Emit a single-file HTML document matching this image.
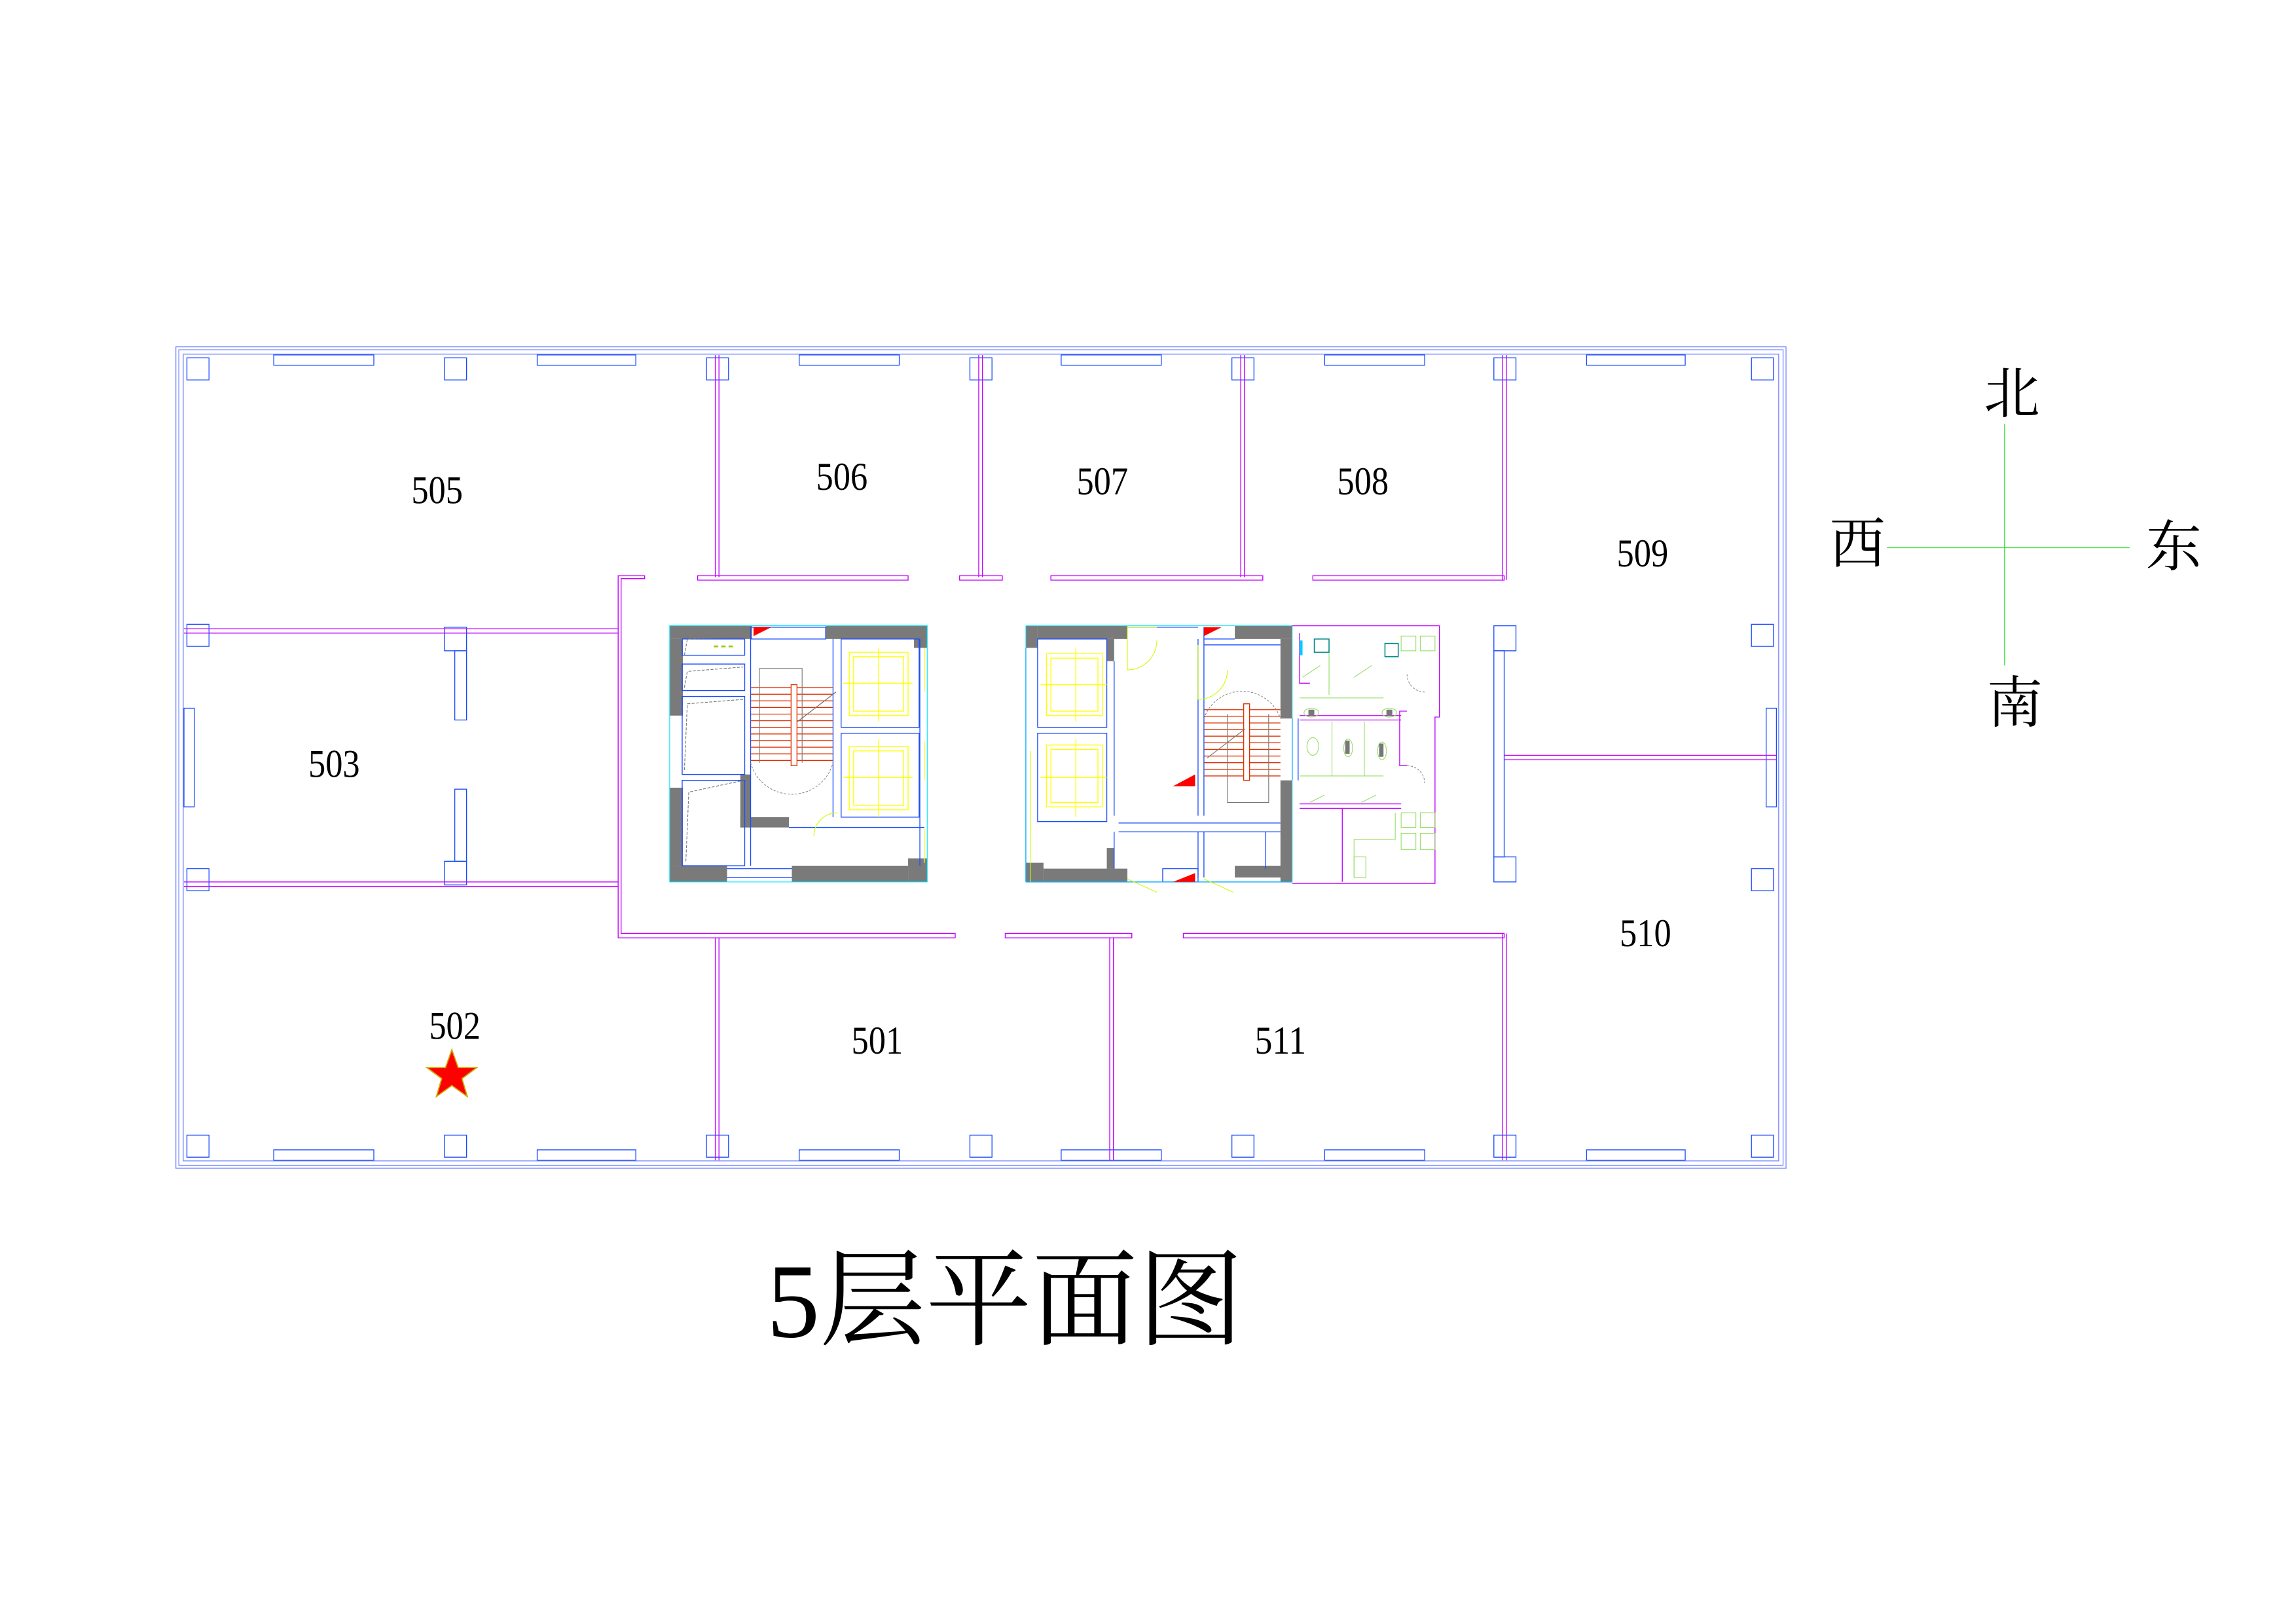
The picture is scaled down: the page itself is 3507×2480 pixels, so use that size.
<!DOCTYPE html>
<html><head><meta charset="utf-8"><style>
html,body{margin:0;padding:0;background:#fff;}
svg{display:block;}
.num{font-family:"Liberation Serif",serif;font-size:27px;fill:#000;}
.cjk{font-family:"Liberation Serif","Noto Serif CJK SC",serif;fill:#000;}
</style></head><body>
<svg width="3507" height="2480" viewBox="0 0 1560 1103" xmlns="http://www.w3.org/2000/svg">
<rect width="1560" height="1103" fill="#fff"/>
<g fill="none" stroke="#7a8cff" stroke-width="0.6">
<rect x="119.5" y="235.5" width="1094" height="558"/>
<rect x="121.5" y="237.5" width="1090" height="554"/>
<rect x="124.5" y="240.5" width="1084" height="548"/>
</g>
<g fill="none" stroke="#1a4cff" stroke-width="0.6">
<rect x="127" y="243" width="15" height="15"/><rect x="302" y="243" width="15" height="15"/><rect x="480" y="243" width="15" height="15"/><rect x="659" y="243" width="15" height="15"/><rect x="837" y="243" width="15" height="15"/><rect x="1015" y="243" width="15" height="15"/><rect x="1190" y="243" width="15" height="15"/>
<rect x="127" y="771" width="15" height="15"/><rect x="302" y="771" width="15" height="15"/><rect x="480" y="771" width="15" height="15"/><rect x="659" y="771" width="15" height="15"/><rect x="837" y="771" width="15" height="15"/><rect x="1015" y="771" width="15" height="15"/><rect x="1190" y="771" width="15" height="15"/>
<rect x="127" y="424" width="15" height="15"/><rect x="127" y="590" width="15" height="15"/>
<rect x="1190" y="424" width="15" height="15"/><rect x="1190" y="590" width="15" height="15"/>
<rect x="302" y="426" width="15" height="16"/><rect x="302" y="585" width="15" height="16"/>
<rect x="309" y="442" width="8" height="47"/><rect x="309" y="536" width="8" height="49"/>
<rect x="1015" y="425" width="15" height="17"/><rect x="1015" y="582" width="15" height="17"/>
<rect x="1015" y="442" width="7" height="140"/>
<rect x="186" y="241" width="68" height="7"/><rect x="365" y="241" width="67" height="7"/><rect x="543" y="241" width="68" height="7"/><rect x="721" y="241" width="68" height="7"/><rect x="900" y="241" width="68" height="7"/><rect x="1078" y="241" width="67" height="7"/>
<rect x="186" y="781" width="68" height="7"/><rect x="365" y="781" width="67" height="7"/><rect x="543" y="781" width="68" height="7"/><rect x="721" y="781" width="68" height="7"/><rect x="900" y="781" width="68" height="7"/><rect x="1078" y="781" width="67" height="7"/>
<rect x="125" y="481" width="7" height="67"/><rect x="1200" y="481" width="7" height="67"/>
</g>
<g fill="none" stroke="#c000ff" stroke-width="0.6">
<path d="M486,241V392 M488.5,241V392 M665,241V392 M667.5,241V392 M843,241V392 M845.5,241V392 M1021,241V394 M1023.5,241V394"/>
<path d="M474,391H617V394H474Z M652,391H681V394H652Z M714,391H858V394H714Z M892,391H1022V394H892Z"/>
<path d="M420,391H438V393H422V634H649V637H420Z"/>
<path d="M683,634H769V637H683Z M804,634H1022V637H804Z"/>
<path d="M486,637V788 M488.5,637V788 M754,637V788 M756.5,637V788 M1021,634V788 M1023.5,634V788"/>
<path d="M125,427H420 M125,430H420 M125,599H420 M125,602H420"/>
<path d="M1022,513H1207 M1022,516H1207"/>
</g>
<g>
<g fill="#7a7a7a">
<rect x="455" y="425" width="56" height="9"/>
<rect x="561" y="425" width="61" height="9"/>
<rect x="621" y="425" width="9" height="15"/>
<rect x="455" y="434" width="9" height="52"/>
<rect x="455" y="535" width="9" height="53"/>
<rect x="455" y="588" width="39" height="11"/>
<rect x="538" y="588" width="79" height="11"/>
<rect x="617" y="583" width="13" height="16"/>
<rect x="503" y="526" width="7" height="36"/>
<rect x="503" y="555" width="33" height="7"/>
</g>
<g fill="none" stroke="#1a4cff" stroke-width="0.6">
<rect x="510" y="426" width="51" height="8"/>
<rect x="463.5" y="434" width="42.5" height="11"/>
<rect x="463.5" y="451" width="42.5" height="18"/>
<rect x="463.5" y="473" width="42.5" height="53"/>
<rect x="463.5" y="530" width="42.5" height="58"/>
<rect x="571.5" y="434" width="53" height="60"/>
<rect x="571.5" y="498" width="53" height="57"/>
<path d="M510,434V588 M566,434V555 M536,562H628 M625,434V588 M494,590H538 M494,596H538"/>
</g>
<path d="M455,425H630V599H455Z" fill="none" stroke="#00e5ff" stroke-width="0.5"/>
<g fill="none" stroke="#777" stroke-width="0.5" stroke-dasharray="2,1">
<path d="M465,445L467,434L505,433 M465,467L467,456L505,453 M465,523L467,478L505,475 M466,585L468,538L505,530"/>
</g>
<g stroke="#e03000" stroke-width="0.6">
<path d="M510,467H566 M510,471.5H566 M510,476H566 M510,480.5H566 M510,485H566 M510,489.5H566 M510,494H566 M510,498.5H566 M510,503H566 M510,507.5H566 M510,512H566 M510,516.5H566"/>
</g>
<rect x="537.5" y="465" width="4" height="55" fill="#fff" stroke="#e03000" stroke-width="0.6"/>
<path d="M516,518V454H545V518" fill="none" stroke="#777" stroke-width="0.5"/>
<path d="M510,518A29,29 0 0 0 566,518" fill="none" stroke="#777" stroke-width="0.4" stroke-dasharray="1.5,1"/>
<path d="M542,490L568,470" stroke="#777" stroke-width="0.6"/>
<g fill="none" stroke="#ffff00" stroke-width="0.6">
<rect x="577" y="443" width="40" height="43"/><rect x="580" y="446" width="34" height="37"/>
<rect x="577" y="507" width="40" height="43"/><rect x="580" y="510" width="34" height="37"/>
<path d="M573,464H620 M597,440V490 M573,528H620 M597,502V555"/>
<path d="M628,440V470 M628,503V530 M628,563V586"/>
</g>
<path d="M512,426h12l-12,6z" fill="#f00"/>
<path d="M485,439l3,0 M490,439l3,0 M495,439l3,0" stroke="#99cc00" stroke-width="1.2"/>
<path d="M569,552A16,16 0 0 0 553,568" fill="none" stroke="#ccff00" stroke-width="0.5"/>
</g>
<g>
<g fill="#7a7a7a">
<rect x="697" y="425" width="8" height="15"/>
<rect x="705" y="425" width="61" height="9"/>
<rect x="839" y="425" width="39" height="9"/>
<rect x="870" y="434" width="8" height="54"/>
<rect x="870" y="530" width="8" height="69"/>
<rect x="697" y="586" width="12" height="13"/>
<rect x="709" y="590" width="57" height="9"/>
<rect x="839" y="588" width="39" height="8"/>
<rect x="752" y="434" width="5" height="15"/>
<rect x="752" y="576" width="5" height="14"/>
</g>
<g fill="none" stroke="#1a4cff" stroke-width="0.6">
<rect x="705" y="434" width="47" height="60"/>
<rect x="705" y="498" width="47" height="60"/>
<path d="M757,449V554 M814,434V554 M818,434V554 M697,440V599 M697,599H878 M760,559H870 M760,565H870 M757,565V590 M814,565V596 M818,565V596 M860,565V590 M878,488V530 M882,488V530 M766,426H814 M818,426V434H839 M818,438H870"/>
<rect x="790" y="590" width="24" height="9"/>
</g>
<path d="M697,425H878V599H697Z" fill="none" stroke="#00e5ff" stroke-width="0.4"/>
<g fill="none" stroke="#ffff00" stroke-width="0.6">
<rect x="711" y="444" width="38" height="42"/><rect x="714" y="447" width="32" height="36"/>
<rect x="711" y="506" width="38" height="42"/><rect x="714" y="509" width="32" height="36"/>
<path d="M707,465H752 M731,440V490 M707,528H752 M731,502V555"/>
</g>
<g fill="none" stroke="#ccff00" stroke-width="0.5">
<path d="M766,426V455A20,20 0 0 0 786,435 M766,426H786 M814,438V475A20,20 0 0 0 834,455 M700,510V599 M766,597L786,606 M818,597L838,606"/>
</g>
<g stroke="#e03000" stroke-width="0.6">
<path d="M818,482H870 M818,486.5H870 M818,491H870 M818,495.5H870 M818,500H870 M818,504.5H870 M818,509H870 M818,513.5H870 M818,518H870 M818,522.5H870 M818,527H870"/>
</g>
<rect x="845" y="478" width="4" height="52" fill="#fff" stroke="#e03000" stroke-width="0.6"/>
<path d="M818,488A27.5,27.5 0 0 1 870,488" fill="none" stroke="#777" stroke-width="0.4" stroke-dasharray="1.5,1"/>
<path d="M834,485V545H862V485 M820,515L846,495" fill="none" stroke="#777" stroke-width="0.5"/>
<path d="M818,426h12l-12,6z M812,526v8h-15z M797,599l15,-6v6z" fill="#f00"/>
<g fill="none" stroke="#c000ff" stroke-width="0.6">
<path d="M878,425H978V487H975V600H878"/>
<path d="M883,430V464H890 M956,483H951V520H956 M883,486H952 M883,489H952 M883,546H952 M883,549H952 M912,549V599"/>
</g>
<g fill="none" stroke="#99dd66" stroke-width="0.5">
<rect x="952" y="432" width="10" height="10"/><rect x="965" y="432" width="10" height="10"/>
<rect x="952" y="552" width="10" height="10"/><rect x="965" y="552" width="10" height="10"/>
<rect x="952" y="566" width="10" height="11"/><rect x="965" y="566" width="10" height="11"/>
<rect x="920" y="582" width="8" height="14"/>
<path d="M883,474H940 M883,527H940 M905,490V527 M927,490V527 M903,440V472 M885,460L897,452 M920,460L932,452 M890,545L900,540 M925,545L935,540 M920,570H948V552 M920,570V596"/>
<ellipse cx="891" cy="484" rx="5" ry="3"/><ellipse cx="944" cy="484" rx="5" ry="3"/>
<ellipse cx="892" cy="507" rx="4" ry="6"/><ellipse cx="916" cy="508" rx="3" ry="6"/><ellipse cx="939" cy="510" rx="3" ry="6"/>
</g>
<g fill="#777"><rect x="889" y="482" width="4" height="4"/><rect x="942" y="482" width="4" height="4"/><rect x="914" y="503" width="3" height="9"/><rect x="937" y="505" width="3" height="9"/></g>
<path d="M884,435V445" stroke="#00ccff" stroke-width="2"/>
<rect x="893" y="434" width="10" height="9" fill="none" stroke="#008888" stroke-width="0.7"/>
<rect x="941" y="437" width="9" height="9" fill="none" stroke="#008888" stroke-width="0.7"/>
<path d="M956,458A12,12 0 0 0 968,470 M956,520A12,12 0 0 1 968,532" fill="none" stroke="#777" stroke-width="0.4" stroke-dasharray="1.5,1"/>
</g>
<polygon points="307,713 311.3,725.1 324,725.1 313.9,732.6 317.5,744.8 307,737.3 296.5,744.8 300.1,732.6 290,725.1 302.7,725.1" fill="#ff0000" stroke="#ccaa00" stroke-width="0.8"/>
<g class="num" text-anchor="middle" dominant-baseline="central" lengthAdjust="spacingAndGlyphs">
<text x="297" y="333" textLength="35" lengthAdjust="spacingAndGlyphs">505</text>
<text x="572" y="324" textLength="35" lengthAdjust="spacingAndGlyphs">506</text>
<text x="749" y="327" textLength="35" lengthAdjust="spacingAndGlyphs">507</text>
<text x="926" y="327" textLength="35" lengthAdjust="spacingAndGlyphs">508</text>
<text x="1116" y="376" textLength="35" lengthAdjust="spacingAndGlyphs">509</text>
<text x="227" y="519" textLength="35" lengthAdjust="spacingAndGlyphs">503</text>
<text x="1118" y="634" textLength="35" lengthAdjust="spacingAndGlyphs">510</text>
<text x="309" y="697" textLength="35" lengthAdjust="spacingAndGlyphs">502</text>
<text x="596" y="707" textLength="35" lengthAdjust="spacingAndGlyphs">501</text>
<text x="870" y="707" textLength="35" lengthAdjust="spacingAndGlyphs">511</text>
</g>
<g stroke="#33dd33" stroke-width="0.6">
<path d="M1362,288V452 M1282,372H1447"/>
</g>
<g class="cjk" font-size="38" text-anchor="middle" dominant-baseline="central">
<text x="1367" y="268">北</text>
<text x="1262" y="370">西</text>
<text x="1477" y="372">东</text>
<text x="1369" y="478">南</text>
</g>
<text x="683" y="908" class="cjk" font-size="72" text-anchor="middle">5层平面图</text>
</svg>
</body></html>
